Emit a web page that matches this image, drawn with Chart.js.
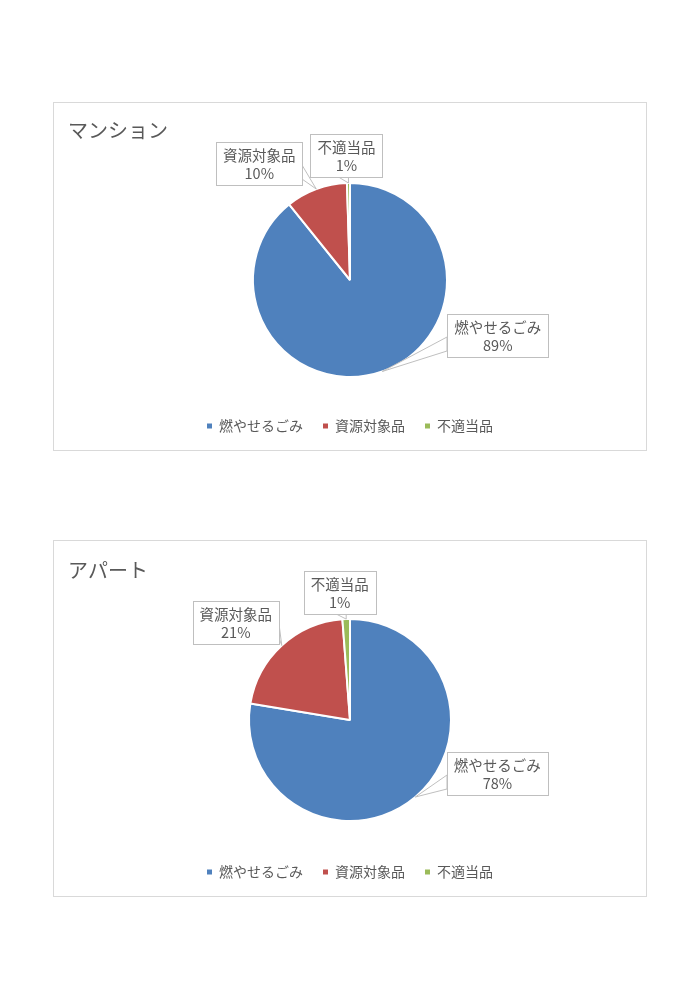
<!DOCTYPE html>
<html>
<head>
<meta charset="utf-8">
<script src="https://cdn.jsdelivr.net/npm/chart.js@4.4.1/dist/chart.umd.min.js"></script>
<style>
body { margin: 0; background: #fff; width: 700px; height: 994px; position: relative; }
.box { position: absolute; left: 53px; width: 594px; border: 1px solid #d9d9d9; box-sizing: border-box; background: #fff; }
#box1 { top: 102px; height: 349px; }
#box2 { top: 540px; height: 357px; }
canvas { display: block; }
</style>
</head>
<body>
<div class="box" id="box1"><canvas id="c1"></canvas></div>
<div class="box" id="box2"><canvas id="c2"></canvas></div>
<script>
const categories = ['燃やせるごみ', '資源対象品', '不適当品'];
const mansionValues = [89.2, 10.3, 0.5];
const apartValues = [77.6, 21.2, 1.2];
const colors = ['#4f81bd', '#c0504d', '#9bbb59'];

const FONT = '"Noto Sans CJK JP", "Noto Sans", sans-serif';
const TEXT = '#595959';
Chart.defaults.font.family = FONT;

// data callouts like Excel: box with name + percent, pointer to the slice
const calloutPlugin = {
    id: 'callouts',
    afterDatasetsDraw(chart, args, opts) {
        const ctx = chart.ctx;
        const meta = chart.getDatasetMeta(0);
        const data = chart.data.datasets[0].data;
        const total = data.reduce((a, b) => a + b, 0);
        const clamp = (v, a, b) => Math.max(a, Math.min(b, v));
        ctx.save();
        ctx.font = '14.5px ' + FONT;
        meta.data.forEach((arc, i) => {
            const p = arc.getProps(['x', 'y', 'startAngle', 'endAngle', 'outerRadius'], true);
            const mid = (p.startAngle + p.endAngle) / 2;
            const ax = p.x + Math.cos(mid) * p.outerRadius;
            const ay = p.y + Math.sin(mid) * p.outerRadius;
            const off = opts.offsets[i];
            const cx = ax + off[0], cy = ay + off[1];
            const l1 = chart.data.labels[i];
            const l2 = Math.round(data[i] / total * 100) + '%';
            const w = Math.round(Math.max(ctx.measureText(l1).width, ctx.measureText(l2).width) + 14);
            const h = 43;
            const bx = Math.round(cx - w / 2), by = Math.round(cy - h / 2);

            // pointer
            let p1, p2;
            if (ax < bx || ax > bx + w) {
                const ex = ax < bx ? bx : bx + w;
                const y = clamp(ay, by + 20, by + h - 6);
                p1 = [ex, y]; p2 = [ex, y - 14];
            } else {
                const x = clamp(ax, bx + 14, bx + w - 4);
                p1 = [x, by + h]; p2 = [x - 10, by + h];
            }
            ctx.beginPath();
            ctx.moveTo(p1[0], p1[1]);
            ctx.lineTo(ax, ay);
            ctx.lineTo(p2[0], p2[1]);
            ctx.closePath();
            ctx.fillStyle = '#fff';
            ctx.fill();
            ctx.strokeStyle = '#bfbfbf';
            ctx.lineWidth = 1;
            ctx.stroke();

            ctx.fillStyle = '#fff';
            ctx.fillRect(bx, by, w, h);
            ctx.strokeRect(bx + 0.5, by + 0.5, w, h);
            ctx.fillStyle = TEXT;
            ctx.textAlign = 'center';
            ctx.textBaseline = 'middle';
            ctx.fillText(l1, cx, by + 13);
            ctx.fillText(l2, cx, by + 31);
        });
        ctx.restore();
    }
};

function makePie(id, title, values, radius, titleTop, titleGap, offsets) {
    new Chart(document.getElementById(id), {
        type: 'pie',
        data: {
            labels: categories,
            datasets: [{
                data: values,
                backgroundColor: colors,
                borderColor: '#fff',
                borderWidth: 2
            }]
        },
        options: {
            responsive: true,
            maintainAspectRatio: false,
            animation: false,
            radius: radius,
            layout: { padding: { left: 14, right: 14, top: 0, bottom: 7 } },
            plugins: {
                title: {
                    display: true,
                    text: title,
                    align: 'start',
                    color: TEXT,
                    font: { size: 20, weight: 'normal' },
                    padding: { top: titleTop, bottom: titleGap }
                },
                legend: {
                    position: 'bottom',
                    labels: {
                        boxWidth: 5,
                        boxHeight: 5,
                        color: TEXT,
                        font: { size: 14 },
                        padding: 20,
                        generateLabels(chart) {
                            const items = Chart.controllers.pie.overrides.plugins.legend.labels.generateLabels(chart);
                            items.forEach(it => { it.lineWidth = 0; });
                            return items;
                        }
                    }
                },
                tooltip: { enabled: false },
                callouts: { offsets: offsets }
            }
        },
        plugins: [calloutPlugin]
    });
}

makePie('c1', 'マンション', mansionValues, 97, 15, 19, [[115.5, -35.5], [-57, -25.5], [-2, -27.5]]);
makePie('c2', 'アパート', apartValues, 101, 17, 13, [[82, -24], [-46, -23.5], [-6.5, -26.5]]);
</script>
</body>
</html>
